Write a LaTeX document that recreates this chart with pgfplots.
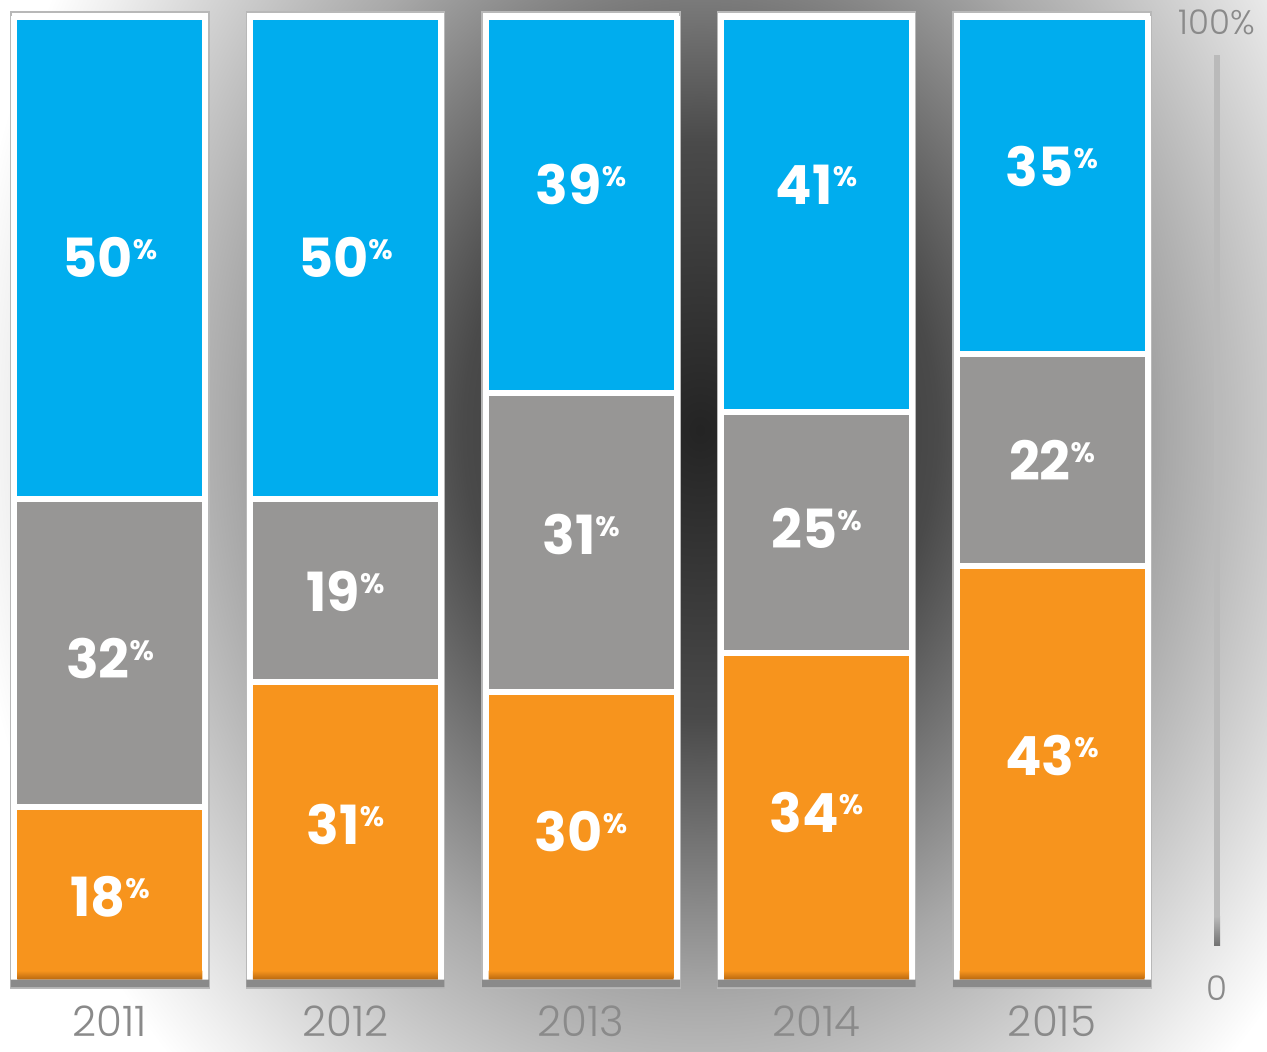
\documentclass[border=0pt]{standalone}
\usepackage{pgfplots}
\usepackage{pgfplotstable}
\pgfplotsset{compat=1.18}
\usepackage{fontspec}
\setmainfont{Poppins}
\newfontfamily\lightfont{Poppins}[UprightFont={* Light}]
\definecolor{cblue}{HTML}{00ADEE}
\definecolor{cgray}{HTML}{979695}
\definecolor{corange}{HTML}{F7941D}
\definecolor{corangedark}{HTML}{B8680F}
\definecolor{ctext}{HTML}{8A8A8A}
\definecolor{cband}{HTML}{8A8A8A}
\pgfdeclareradialshading{bgshade}{\pgfpoint{0bp}{0bp}}{color(0bp)=(black!86); color(8bp)=(black!71); color(15.75bp)=(black!34); color(23.25bp)=(black!6); color(25bp)=(white); color(50bp)=(white)}

\pgfplotstableread{
x orange gray blue
0 18 32 50
1 31 19 50
2 30 31 39
3 34 25 41
4 43 22 35
}\shares

\pgfplotstableread{
x y label
0 8.7 18
0 33.5 32
0 75.1 50
1 16.2 31
1 40.4 19
1 75.1 50
2 15.5 30
2 46.3 31
2 82.6 39
3 17.5 34
3 47.0 25
3 82.6 41
4 23.4 43
4 54.0 22
4 84.5 35
}\labeltab

\begin{document}
\begin{tikzpicture}[x=0.5pt,y=0.5pt]
\fill[white] (0,0) rectangle (1267,1051);
\begin{scope}
\clip (0,0) rectangle (1267,1051);
\shade[shading=bgshade] (700,621) ellipse [x radius=740, y radius=900];
\end{scope}

% frames behind the bars
\begin{axis}[
  at={(2pt,31.5pt)}, anchor=south west, scale only axis,
  width=577pt, height=488pt,
  xmin=-0.45, xmax=4.45, ymin=0, ymax=100,
  hide axis,
  ybar, bar width=99pt,
]
\addplot[fill=white, draw=black!28, line width=0.75pt, bar shift=0pt]
  coordinates {(0,100) (1,100) (2,100) (3,100) (4,100)};
\end{axis}

% stacked data
\begin{axis}[
  at={(2pt,35pt)}, anchor=south west, scale only axis,
  width=577pt, height=482pt,
  xmin=-0.45, xmax=4.45, ymin=0, ymax=100,
  ybar stacked, bar width=95.5pt,
  axis line style={draw=none},
  major tick length=0pt,
  ytick=\empty,
  xtick={0,1,2,3,4},
  xticklabels={2011,2012,2013,2014,2015},
  xticklabel style={font=\lightfont\fontsize{21}{21}\selectfont, text=ctext, inner sep=0pt, yshift=-12pt},
]
\addplot[fill=corange, draw=white, line width=3pt] table[x=x, y=orange] {\shares};
\addplot[fill=cgray, draw=white, line width=3pt] table[x=x, y=gray] {\shares};
\addplot[fill=cblue, draw=white, line width=3pt] table[x=x, y=blue] {\shares};
\end{axis}

% bottom shadow band
\begin{axis}[
  at={(2pt,32pt)}, anchor=south west, scale only axis,
  width=577pt, height=500pt,
  xmin=-0.45, xmax=4.45, ymin=0, ymax=100,
  hide axis,
  ybar stacked,
]
\addplot[fill=cband, draw=none, bar width=99pt]
  coordinates {(0,0.75) (1,0.75) (2,0.75) (3,0.75) (4,0.75)};
\addplot[draw=none, bar width=92.5pt, top color=corange, bottom color=corangedark]
  coordinates {(0,0.9) (1,0.9) (2,0.9) (3,0.9) (4,0.9)};
\end{axis}

% value labels
\begin{axis}[
  at={(2pt,35pt)}, anchor=south west, scale only axis,
  width=577pt, height=482pt,
  xmin=-0.45, xmax=4.45, ymin=0, ymax=100,
  hide axis,
]
\addplot[only marks, mark=none,
  point meta=explicit symbolic,
  nodes near coords={\pgfplotspointmeta{\fontsize{14}{14}\selectfont\raisebox{9pt}{\%}}},
  every node near coord/.append style={anchor=center, text=white,
     font=\bfseries\fontsize{27}{27}\selectfont, inner sep=0pt},
] table[x=x, y=y, meta=label] {\labeltab};
\end{axis}

% right scale
\fill[black!27] (1214,106) rectangle (1220,996);
\shade[top color=black!27, bottom color=black!55] (1214,106) rectangle (1220,135);
\node[text=ctext, font=\lightfont\fontsize{17}{17}\selectfont] at (1217,1029) {100\%};
\node[text=ctext, font=\lightfont\fontsize{17}{17}\selectfont] at (1217,63) {0};

\pgfresetboundingbox
\useasboundingbox (0,0) rectangle (1267,1051);
\end{tikzpicture}
\end{document}
